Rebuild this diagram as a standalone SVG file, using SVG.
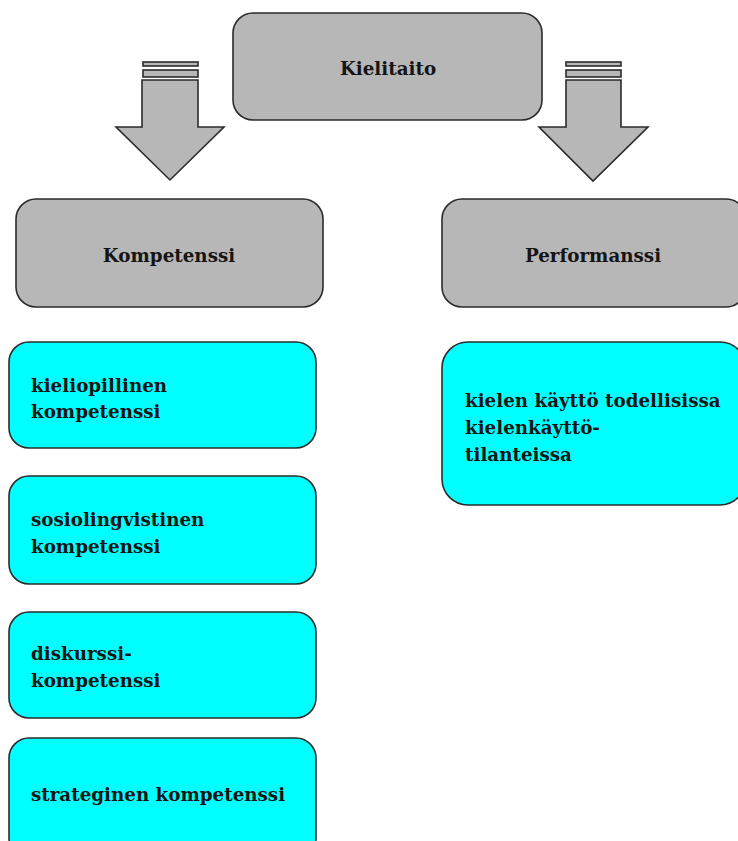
<svg xmlns="http://www.w3.org/2000/svg" width="738" height="841" viewBox="0 0 738 841">
  <style>
    .box { stroke: #2b2b2b; stroke-width: 1.6; }
    .grey { fill: #b7b7b7; }
    .cyan { fill: #00ffff; }
    .arrow { fill: #b7b7b7; stroke: #2b2b2b; stroke-width: 1.6; stroke-linejoin: miter; }
    text { font-family: "DejaVu Serif", "Liberation Serif", serif; font-weight: bold; font-size: 18.3px; fill: #151515; }
    .mid { text-anchor: middle; }
  </style>
  <rect width="738" height="841" fill="#ffffff"/>

  <!-- connectors: block arrows from the top node -->
  <g id="connectors">
    <g id="arrow-left">
      <rect class="arrow" x="143" y="62" width="55" height="4"/>
      <rect class="arrow" x="143" y="70" width="55" height="7"/>
      <path class="arrow" d="M142,80 L198,80 L198,127 L224,127 L170,180 L116,127 L142,127 Z"/>
    </g>
    <g id="arrow-right">
      <rect class="arrow" x="566" y="62" width="55" height="4"/>
      <rect class="arrow" x="566" y="70" width="55" height="7"/>
      <path class="arrow" d="M566,80 L621,80 L621,127 L648,127 L593,181 L539,127 L566,127 Z"/>
    </g>
  </g>

  <g id="kielitaito">
    <rect class="box grey" x="233" y="13" width="309" height="107" rx="20"/>
    <text class="mid" x="388" y="75">Kielitaito</text>
  </g>

  <g id="kompetenssi">
    <rect class="box grey" x="16" y="199" width="307" height="108" rx="20"/>
    <text class="mid" x="169" y="262">Kompetenssi</text>
  </g>

  <g id="performanssi">
    <rect class="box grey" x="442" y="199" width="304" height="108" rx="20"/>
    <text class="mid" x="593" y="262">Performanssi</text>
  </g>

  <g id="kieliopillinen">
    <rect class="box cyan" x="9" y="342" width="307" height="106" rx="20"/>
    <text x="31" y="392">kieliopillinen</text>
    <text x="31" y="418">kompetenssi</text>
  </g>

  <g id="sosiolingvistinen">
    <rect class="box cyan" x="9" y="476" width="307" height="108" rx="20"/>
    <text x="31" y="526">sosiolingvistinen</text>
    <text x="31" y="553">kompetenssi</text>
  </g>

  <g id="diskurssi">
    <rect class="box cyan" x="9" y="612" width="307" height="106" rx="20"/>
    <text x="31" y="660">diskurssi-</text>
    <text x="31" y="687">kompetenssi</text>
  </g>

  <g id="strateginen">
    <rect class="box cyan" x="9" y="738" width="307" height="120" rx="20"/>
    <text x="31" y="801">strateginen kompetenssi</text>
  </g>

  <g id="kielenkaytto">
    <rect class="box cyan" x="442" y="342" width="304" height="163" rx="26"/>
    <text x="465" y="407">kielen käyttö todellisissa</text>
    <text x="465" y="434">kielenkäyttö-</text>
    <text x="465" y="461">tilanteissa</text>
  </g>
</svg>
